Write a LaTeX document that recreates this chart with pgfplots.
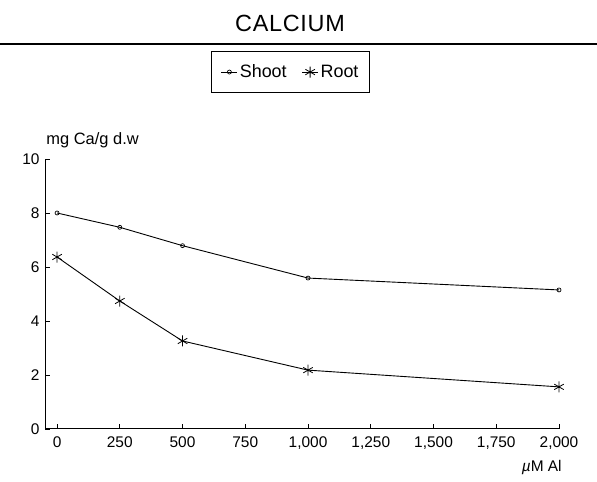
\documentclass[border=0pt]{standalone}
\usepackage{fontspec}
\setmainfont{Liberation Sans}
\usepackage{pgfplots}
\pgfplotsset{compat=1.18}
\begin{document}
\begin{tikzpicture}[x=1bp,y=1bp]
\useasboundingbox (0,0) rectangle (597,482);
\draw[line width=1.1bp] (0,438) -- (597,438);
\node[font=\fontsize{23.5}{26}\selectfont, inner sep=0pt] at (290,459) {C\kern0.7bp A\kern0.7bp L\kern0.7bp C\kern0.7bp I\kern0.7bp U\kern0.7bp M};
\begin{axis}[
  at={(45bp,53bp)}, anchor=south west,
  scale only axis, width=514bp, height=270bp,
  xmin=-48, xmax=2000, ymin=0, ymax=10,
  axis x line*=bottom, axis y line*=left,
  axis line style={-, line width=1bp},
  every outer x axis line/.append style={-},
  every outer y axis line/.append style={-},
  xtick={0,250,...,2000}, ytick={0,2,...,10},
  tick align=inside, tick style={black, line width=0.7bp},
  major tick length=5bp,
  /pgf/number format/assume math mode=true,
  /pgf/number format/1000 sep={,},
  ticklabel style={font=\fontsize{15.5}{18}\selectfont},
  xticklabel style={yshift=-4bp},
  yticklabel style={xshift=-2bp},
  ylabel={mg Ca/g d.w},
  ylabel style={rotate=-90, at={(axis description cs:-0.004,1.07)}, anchor=west, font=\fontsize{16.5}{19}\selectfont},
  xlabel={\textit{µ}M Al},
  xlabel style={at={(axis description cs:1.012,-0.141)}, anchor=east, font=\fontsize{15.5}{18}\selectfont},
  legend columns=2,
  legend style={at={(axis description cs:0.478,1.322)}, anchor=center, draw=black, line width=0.9bp,
    font=\fontsize{18}{20}\selectfont, inner xsep=9bp, inner ysep=11bp,
    /tikz/every even column/.append style={column sep=13bp}},
  legend image code/.code={\draw[mark repeat=2,mark phase=2,#1] plot coordinates {(0bp,0bp)(8bp,0bp)(16bp,0bp)};},
]
\addplot[black, line width=0.9bp, mark=o, mark size=2bp, mark options={solid, line width=0.7bp}] coordinates {
  (0,8.0) (250,7.47) (500,6.79) (1000,5.59) (2000,5.15)
};
\addlegendentry{Shoot}
\addplot[black, line width=0.9bp, mark=asterisk, mark size=5.5bp, mark options={solid, line width=0.8bp}] coordinates {
  (0,6.37) (250,4.74) (500,3.26) (1000,2.18) (2000,1.56)
};
\addlegendentry{Root}
\end{axis}
\end{tikzpicture}
\end{document}
